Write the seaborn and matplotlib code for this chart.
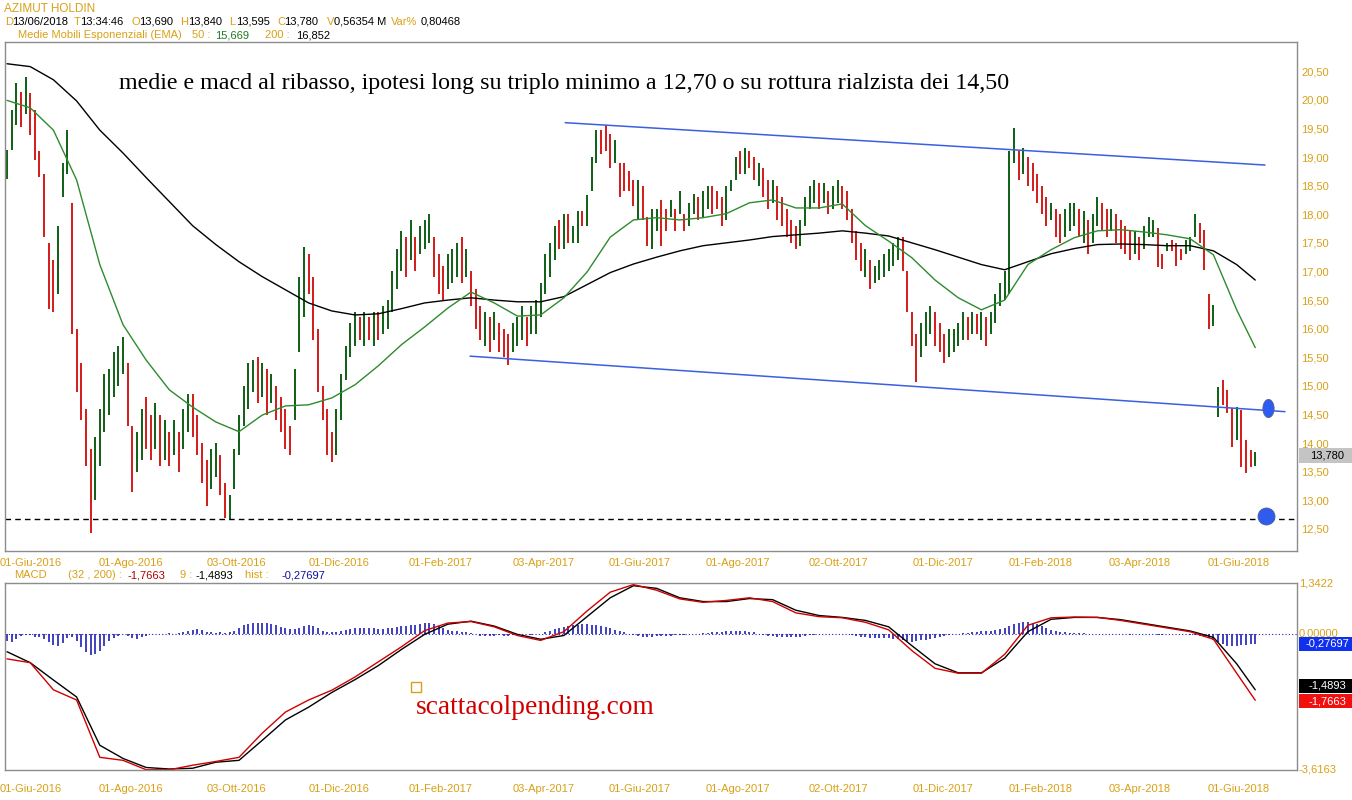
import numpy as np
import pandas as pd
import matplotlib
matplotlib.use("Agg")
import matplotlib.pyplot as plt
from matplotlib.patches import Rectangle
import seaborn as sns

sns.set_theme(style="white")
plt.rcParams['font.family'] = ['Liberation Sans', 'DejaVu Sans']

# ---------------- data (bar index = every 2 trading days) ----------------
highs = [
 19.13,19.82,20.30,20.14,20.39,20.12,19.82,19.10,18.70,17.50,
 17.20,17.80,18.90,19.47,18.20,16.00,15.40,14.60,13.90,14.10,
 14.60,15.20,15.30,15.60,15.70,15.85,15.40,14.30,14.20,14.60,
 14.80,14.50,14.70,14.50,14.40,14.20,14.40,14.20,14.60,14.85,
 14.85,14.50,14.00,13.70,13.90,14.00,13.80,13.30,13.10,13.90,
 14.50,15.00,15.40,15.45,15.50,15.40,15.30,15.20,15.00,14.80,
 14.60,14.30,15.30,16.90,17.43,17.30,16.90,16.00,15.00,14.60,
 14.20,14.60,15.20,15.70,16.10,16.30,16.20,16.30,16.20,16.30,
 16.30,16.40,16.50,17.00,17.40,17.70,17.60,17.90,17.60,17.80,
 17.90,18.00,17.60,17.30,17.10,17.30,17.40,17.50,17.60,17.40,
 17.00,16.70,16.40,16.30,16.20,16.30,16.10,16.00,15.90,16.10,
 16.20,16.40,16.20,16.40,16.50,16.80,17.30,17.50,17.80,17.90,
 18.00,18.00,17.80,18.05,18.05,18.34,19.00,19.47,19.47,19.56,
 19.40,19.30,18.90,18.90,18.75,18.60,18.60,18.50,17.95,18.10,
 18.10,18.25,18.10,18.25,18.10,18.40,18.00,18.20,18.35,18.30,
 18.40,18.50,18.50,18.40,18.30,18.50,18.60,19.00,19.10,19.15,
 19.10,19.00,18.90,18.80,18.60,18.60,18.50,18.30,18.10,17.90,
 17.80,17.90,18.30,18.50,18.60,18.55,18.55,18.40,18.50,18.60,
 18.50,18.40,18.10,17.70,17.50,17.40,17.20,17.10,17.20,17.30,
 17.40,17.50,17.60,17.60,17.00,16.30,15.90,16.10,16.30,16.40,
 16.30,16.10,15.90,16.00,16.00,16.10,16.30,16.20,16.30,16.25,
 16.30,16.20,16.30,16.60,16.80,17.00,19.10,19.50,19.10,19.15,
 19.00,18.90,18.70,18.50,18.30,18.20,18.10,18.00,18.10,18.20,
 18.20,18.10,18.05,17.90,18.00,18.30,18.20,18.10,18.10,18.00,
 17.90,17.80,17.70,17.70,17.60,17.80,17.95,17.90,17.76,17.30,
 17.50,17.55,17.50,17.40,17.55,17.60,18.00,17.85,17.73,16.60,
 16.42,14.98,15.10,14.93,14.62,14.63,14.58,14.06,13.88,13.84]
lows = [
 18.62,19.13,19.56,19.53,19.75,19.39,18.95,18.65,17.60,16.35,
 16.30,16.60,18.30,18.70,15.90,14.90,14.40,13.60,12.43,13.00,
 13.60,14.20,14.50,14.80,15.00,15.20,14.30,13.15,13.50,13.70,
 13.90,13.70,13.90,13.60,13.70,13.60,13.80,13.50,13.90,14.20,
 14.10,13.80,13.30,12.90,13.20,13.40,13.10,12.70,12.68,13.20,
 13.80,14.30,14.60,14.90,14.70,14.80,14.50,14.70,14.40,14.20,
 13.90,13.79,14.40,15.60,16.20,16.60,15.80,14.90,14.40,13.80,
 13.67,13.80,14.40,15.10,15.50,15.70,15.80,15.70,15.80,15.70,
 15.80,15.90,16.00,16.30,16.70,17.00,16.90,17.20,17.00,17.30,
 17.40,17.50,16.90,16.60,16.50,16.70,16.80,16.90,16.80,16.90,
 16.40,16.00,15.80,15.70,15.60,15.80,15.60,15.50,15.37,15.60,
 15.70,15.80,15.70,15.90,15.90,16.20,16.60,16.90,17.20,17.40,
 17.40,17.50,17.50,17.50,17.80,17.80,18.40,18.90,19.05,19.10,
 18.80,18.90,18.30,18.40,18.40,18.15,17.90,17.90,17.45,17.40,
 17.70,17.45,17.70,17.95,17.70,18.00,17.70,17.80,18.00,17.90,
 17.95,18.10,18.00,18.10,17.80,17.90,18.40,18.60,18.70,18.70,
 18.80,18.60,18.50,18.30,18.10,18.20,17.90,17.80,17.60,17.50,
 17.40,17.45,17.80,18.10,18.20,18.10,18.20,18.00,18.10,18.20,
 18.10,17.90,17.50,17.20,17.00,16.90,16.70,16.80,16.85,16.90,
 17.00,17.10,17.20,17.00,16.30,15.70,15.07,15.50,15.70,15.90,
 15.70,15.60,15.40,15.50,15.60,15.70,15.80,15.80,15.90,15.90,
 15.80,15.70,15.90,16.10,16.40,16.50,16.60,18.90,18.60,18.70,
 18.50,18.40,18.20,18.00,17.80,17.90,17.60,17.50,17.60,17.70,
 17.80,17.60,17.50,17.30,17.50,17.80,17.70,17.60,17.70,17.50,
 17.40,17.30,17.20,17.30,17.20,17.40,17.60,17.60,17.08,17.05,
 17.35,17.35,17.10,17.20,17.30,17.35,17.60,17.50,17.03,16.00,
 16.05,14.45,14.67,14.53,13.93,14.06,13.58,13.48,13.58,13.595]
ups = [
 1,1,1,0,1,0,0,0,0,0, 0,1,1,1,0,0,0,0,0,1, 1,1,1,1,1,1,0,0,1,1,
 0,0,1,0,1,0,1,0,1,1, 0,0,0,0,1,1,0,0,1,1, 1,1,1,1,0,1,0,1,0,0,
 0,0,1,1,1,0,0,0,0,0, 0,1,1,1,1,1,0,1,0,1, 0,1,1,1,1,1,0,1,0,1,
 1,1,0,0,0,1,1,1,0,1, 0,0,0,1,0,1,0,0,0,1, 1,1,0,1,1,1,1,1,1,0,
 1,0,1,1,0,1,1,1,0,0, 0,1,0,0,0,0,1,0,0,1, 1,0,0,1,0,1,0,1,1,0,
 1,1,0,0,0,1,1,1,0,1, 0,0,1,0,0,1,0,0,0,0, 0,1,1,1,1,0,1,0,1,1,
 0,0,0,0,0,1,0,1,1,1, 1,1,1,0,0,0,0,1,1,1, 0,0,0,1,1,1,1,0,1,0,
 1,0,1,1,1,1,1,1,0,1, 0,0,0,0,0,1,0,0,1,1, 1,0,1,0,1,1,0,0,1,0,
 0,0,0,1,0,1,1,1,0,0, 1,0,0,0,1,1,1,0,0,0, 1,1,0,0,0,1,0,0,0,1]

ema_idx = [0,5,10,15,20,25,30,35,40,45, 50,55,60,65,70,75,80,85,90,95,
           100,105,110,115,120,125,130,135,140,145, 150,155,160,165,170,175,180,185,190,195,
           200,205,210,215,220,225,230,235,240,245, 250,255,260,265,269]
ema50 = [19.99,19.86,19.47,18.60,17.12,16.07,15.45,14.93,14.63,14.37,
         14.20,14.49,14.65,14.67,14.79,15.02,15.35,15.72,16.03,16.36,
         16.64,16.45,16.22,16.24,16.54,16.99,17.60,17.90,17.94,17.90,
         17.94,18.01,18.20,18.25,18.11,18.11,18.18,17.80,17.53,17.24,
         16.85,16.54,16.33,16.50,17.12,17.38,17.59,17.71,17.73,17.69,
         17.64,17.57,17.29,16.33,15.67]
ema200 = [20.63,20.58,20.35,19.98,19.47,19.07,18.64,18.22,17.80,17.47,
          17.17,16.91,16.68,16.45,16.31,16.24,16.26,16.35,16.45,16.50,
          16.54,16.50,16.47,16.47,16.56,16.77,16.98,17.13,17.25,17.36,
          17.45,17.50,17.55,17.61,17.64,17.67,17.71,17.67,17.62,17.50,
          17.38,17.25,17.12,17.03,17.17,17.31,17.40,17.47,17.48,17.47,
          17.45,17.45,17.36,17.12,16.85]
macd = [-0.67,-0.77,-1.49,-1.76,-3.28,-3.36,-3.61,-3.61,-3.49,-3.39,
        -3.28,-2.64,-2.08,-1.76,-1.50,-1.15,-0.75,-0.35,0.08,0.28,
        0.32,0.18,-0.05,-0.18,0.05,0.60,1.10,1.30,1.15,0.92,
        0.83,0.88,0.95,0.85,0.55,0.45,0.42,0.30,0.10,-0.45,
        -0.92,-1.05,-1.05,-0.55,0.22,0.42,0.44,0.43,0.35,0.25,
        0.15,0.05,-0.15,-1.05,-1.7663]
signal = [-0.48,-0.77,-1.23,-1.68,-2.96,-3.31,-3.55,-3.59,-3.57,-3.41,
          -3.36,-2.83,-2.29,-1.95,-1.56,-1.22,-0.85,-0.42,-0.02,0.25,
          0.33,0.20,-0.02,-0.15,-0.05,0.45,0.95,1.27,1.20,0.95,
          0.85,0.85,0.93,0.90,0.62,0.48,0.43,0.35,0.18,-0.32,
          -0.80,-1.04,-1.04,-0.65,0.05,0.38,0.43,0.43,0.37,0.27,
          0.17,0.07,-0.10,-0.80,-1.4893]
hist = [
 -0.20,-0.22,-0.15,-0.06,-0.04,-0.03,-0.08,-0.10,-0.14,-0.22,
 -0.30,-0.32,-0.25,-0.12,-0.08,-0.20,-0.35,-0.48,-0.58,-0.55,
 -0.45,-0.32,-0.20,-0.12,-0.06,-0.02,-0.05,-0.12,-0.14,-0.10,
 -0.05,-0.02,-0.01,-0.01,0.00,0.01,0.00,0.02,0.05,0.08,
 0.10,0.11,0.09,0.05,0.03,0.02,0.03,0.02,0.04,0.08,
 0.15,0.22,0.26,0.28,0.28,0.28,0.27,0.25,0.22,0.18,
 0.16,0.13,0.12,0.15,0.20,0.22,0.20,0.15,0.08,0.04,
 0.03,0.05,0.07,0.10,0.12,0.14,0.14,0.15,0.15,0.14,
 0.13,0.13,0.14,0.16,0.18,0.20,0.20,0.22,0.24,0.26,
 0.28,0.28,0.25,0.20,0.14,0.10,0.08,0.06,0.05,0.03,
 0.01,-0.02,-0.05,-0.06,-0.06,-0.05,-0.04,-0.05,-0.06,-0.04,
 -0.03,-0.02,-0.02,-0.03,-0.02,0.00,0.04,0.08,0.12,0.15,
 0.18,0.20,0.22,0.24,0.25,0.25,0.24,0.22,0.20,0.18,
 0.15,0.10,0.06,0.03,0.00,-0.03,-0.06,-0.08,-0.09,-0.08,
 -0.07,-0.06,-0.05,-0.05,-0.04,-0.03,-0.03,-0.02,-0.01,0.00,
 0.01,0.02,0.03,0.04,0.05,0.06,0.07,0.08,0.08,0.07,
 0.05,0.03,0.00,-0.03,-0.05,-0.07,-0.08,-0.09,-0.10,-0.10,
 -0.09,-0.08,-0.06,-0.04,-0.03,-0.02,-0.02,-0.01,0.00,0.00,
 0.00,-0.02,-0.04,-0.06,-0.08,-0.10,-0.12,-0.12,-0.12,-0.12,
 -0.12,-0.13,-0.15,-0.18,-0.20,-0.22,-0.20,-0.18,-0.16,-0.14,
 -0.12,-0.10,-0.07,-0.04,-0.02,0.00,0.01,0.02,0.03,0.05,
 0.06,0.07,0.08,0.10,0.12,0.15,0.20,0.25,0.28,0.30,
 0.30,0.28,0.25,0.20,0.15,0.10,0.07,0.05,0.03,0.02,
 0.02,0.01,0.01,0.00,0.00,0.00,-0.01,-0.01,-0.02,-0.02,
 -0.02,-0.02,-0.03,-0.02,-0.02,-0.02,-0.02,-0.02,-0.03,-0.03,
 -0.02,-0.02,-0.02,-0.02,-0.02,-0.03,-0.03,-0.05,-0.08,-0.12,
 -0.16,-0.22,-0.28,-0.33,-0.34,-0.33,-0.31,-0.29,-0.28,-0.277]

tick_pos = [5.0, 26.7, 49.4, 71.6, 93.5, 115.7, 136.4, 157.5, 179.1, 201.7, 222.8, 244.0, 265.5]
tick_labels = ['01-Giu-2016', '01-Ago-2016', '03-Ott-2016', '01-Dic-2016', '01-Feb-2017',
               '03-Apr-2017', '01-Giu-2017', '01-Ago-2017', '02-Ott-2017', '01-Dic-2017',
               '01-Feb-2018', '03-Apr-2018', '01-Giu-2018']
price_ticks = [12.5, 13.0, 13.5, 14.0, 14.5, 15.0, 15.5, 16.0, 16.5, 17.0, 17.5, 18.0, 18.5, 19.0, 19.5, 20.0, 20.5]
upper_trend_x = [120.3, 271.1]
upper_trend_y = [19.60, 18.86]
lower_trend_x = [99.8, 275.4]
lower_trend_y = [15.52, 14.55]
support_level = 12.68
target_marks_x = [271.8, 271.4]
target_marks_y = [14.61, 12.72]
last_close = 13.780
macd_limits = [-3.6163, 1.3422]

# ---------------- styling ----------------
W, H = 1352, 800
GOLD = '#D9A016'
UPC = '#0F5F14'
DNC = '#D41A1A'
GRAY = '#8C8C8C'
BLUE = '#3A5FDF'

fig = plt.figure(figsize=(W / 100, H / 100), dpi=100)
fig.patch.set_facecolor('white')
def fx(x): return x / W
def fy(y): return 1 - y / H

ax = fig.add_axes([fx(5), fy(551), (1297 - 5) / W, (551 - 42) / H])
axm = fig.add_axes([fx(5), fy(770), (1297 - 5) / W, (770 - 583) / H])

xs = np.arange(len(highs))
XLIM = (-0.43, 278.0)

# price bars
cols = [UPC if u else DNC for u in ups]
ax.vlines(xs, lows, highs, colors=cols, linewidth=1.4)

df_ema = pd.DataFrame({'i': ema_idx, 'e50': ema50, 'e200': ema200})
sns.lineplot(data=df_ema, x='i', y='e200', ax=ax, color='black', linewidth=1.0)
sns.lineplot(data=df_ema, x='i', y='e50', ax=ax, color='#2E8B2E', linewidth=1.0)

ax.plot(upper_trend_x, upper_trend_y, color=BLUE, linewidth=1.1)
ax.plot(lower_trend_x, lower_trend_y, color=BLUE, linewidth=1.1)
ax.axhline(support_level, color='black', linestyle=(0, (4, 3)), linewidth=1.0)

theta = np.linspace(0, 2 * np.pi, 40)
ell = list(zip(0.62 * np.cos(theta), np.sin(theta)))
ax.scatter([target_marks_x[0]], [target_marks_y[0]], marker=ell, s=170, color='#2F5CF0',
           edgecolors='#506090', linewidths=0.6, zorder=5)
ax.scatter([target_marks_x[1]], [target_marks_y[1]], marker='o', s=150, color='#2F5CF0',
           edgecolors='#506090', linewidths=0.6, zorder=5)

ax.set_xlim(*XLIM)
ax.set_ylim(12.115, 21.01)
ax.yaxis.tick_right()
ax.set_yticks(price_ticks)
ax.set_yticklabels([f"{v:.2f}".replace('.', ',') for v in price_ticks])
ax.set_xticks(tick_pos)
ax.set_xticklabels(tick_labels)
ax.tick_params(axis='y', length=0, pad=3, labelsize=8, labelcolor=GOLD)
ax.tick_params(axis='x', length=0, pad=5, labelsize=8, labelcolor=GOLD)
ax.set_xlabel('')
ax.set_ylabel('')
for s in ax.spines.values():
    s.set_color(GRAY)
    s.set_linewidth(1.0)

# MACD panel
axm.axhline(0, color='#2020B0', linestyle=(0, (1, 2)), linewidth=0.8)
axm.vlines(xs, 0, hist, colors='#2020B0', linewidth=1.2)
df_m = pd.DataFrame({'i': ema_idx, 'macd': macd, 'sig': signal})
sns.lineplot(data=df_m, x='i', y='sig', ax=axm, color='black', linewidth=1.0)
sns.lineplot(data=df_m, x='i', y='macd', ax=axm, color='#D00000', linewidth=1.0)
axm.set_xlim(*XLIM)
axm.set_ylim(*macd_limits)
axm.set_xticks(tick_pos)
axm.set_xticklabels(tick_labels)
axm.tick_params(axis='x', length=0, pad=10, labelsize=8, labelcolor=GOLD)
axm.set_yticks([])
axm.set_xlabel('')
axm.set_ylabel('')
for s in axm.spines.values():
    s.set_color(GRAY)
    s.set_linewidth(1.0)

for v, lab in [(macd_limits[1], '1,3422'), (0.0, '0,00000'), (macd_limits[0], '-3,6163')]:
    axm.text(1.0015, (v - macd_limits[0]) / (macd_limits[1] - macd_limits[0]), lab,
             transform=axm.transAxes, color=GOLD, fontsize=8, va='center', ha='left')

# value boxes
def box(x0, y0, x1, y1, fc, txt, tc):
    fig.add_artist(Rectangle((fx(x0), fy(y1)), (x1 - x0) / W, (y1 - y0) / H,
                             transform=fig.transFigure, facecolor=fc, edgecolor='none'))
    fig.text(fx((x0 + x1) / 2 + 2), fy((y0 + y1) / 2), txt, color=tc, fontsize=8,
             ha='center', va='center')

box(1299, 448, 1352, 463, '#C4C4C4', f"{last_close:.3f}".replace('.', ','), 'black')
box(1299, 637, 1352, 651, '#1030F0', '-0,27697', 'white')
box(1299, 679, 1352, 693, 'black', '-1,4893', 'white')
box(1299, 694, 1352, 708, '#F01010', '-1,7663', 'white')

# header texts
fig.text(fx(4), fy(9), 'AZIMUT HOLDIN', color=GOLD, fontsize=8.5, va='center')
hdr = [(5, 'D', GOLD), (12, '13/06/2018', 'black'), (74, 'T', GOLD), (80, '13:34:46', 'black'),
       (131, 'O', GOLD), (139, '13,690', 'black'), (180, 'H', GOLD), (188, '13,840', 'black'),
       (229, 'L', GOLD), (236, '13,595', 'black'), (277, 'C', GOLD), (284, '13,780', 'black'),
       (327, 'V', GOLD), (334, '0,56354 M', 'black'), (391, 'Var%', GOLD), (421, '0,80468', 'black')]
for x, t, c in hdr:
    fig.text(fx(x), fy(22), t, color=c, fontsize=8, va='center')
hdr3 = [(18, 'Medie Mobili Esponenziali (EMA)', GOLD), (192, '50 :', GOLD), (215, '15,669', '#1E7B1E'),
        (265, '200 :', GOLD), (296, '16,852', 'black')]
for x, t, c in hdr3:
    fig.text(fx(x), fy(35), t, color=c, fontsize=8, va='center')
hdrm = [(14, 'MACD', GOLD), (68, '(32 , 200) :', GOLD), (128, '-1,7663', '#B00000'), (180, '9 :', GOLD),
        (196, '-1,4893', 'black'), (245, 'hist :', GOLD), (282, '-0,27697', '#10109A')]
for x, t, c in hdrm:
    fig.text(fx(x), fy(575), t, color=c, fontsize=8, va='center')

fig.text(fx(119), fy(83), 'medie e macd al ribasso, ipotesi long su triplo minimo a 12,70 o su rottura rialzista dei 14,50',
         family='Liberation Serif', fontsize=17.3, color='black', va='center')
fig.text(fx(416), fy(707), 'scattacolpending.com', family='Liberation Serif', fontsize=19.8,
         color='#D00000', va='center')
fig.add_artist(Rectangle((fx(411), fy(692)), 10 / W, 10 / H, transform=fig.transFigure,
                         facecolor='none', edgecolor=GOLD, linewidth=1))

fig.savefig('out.png', dpi=100)
